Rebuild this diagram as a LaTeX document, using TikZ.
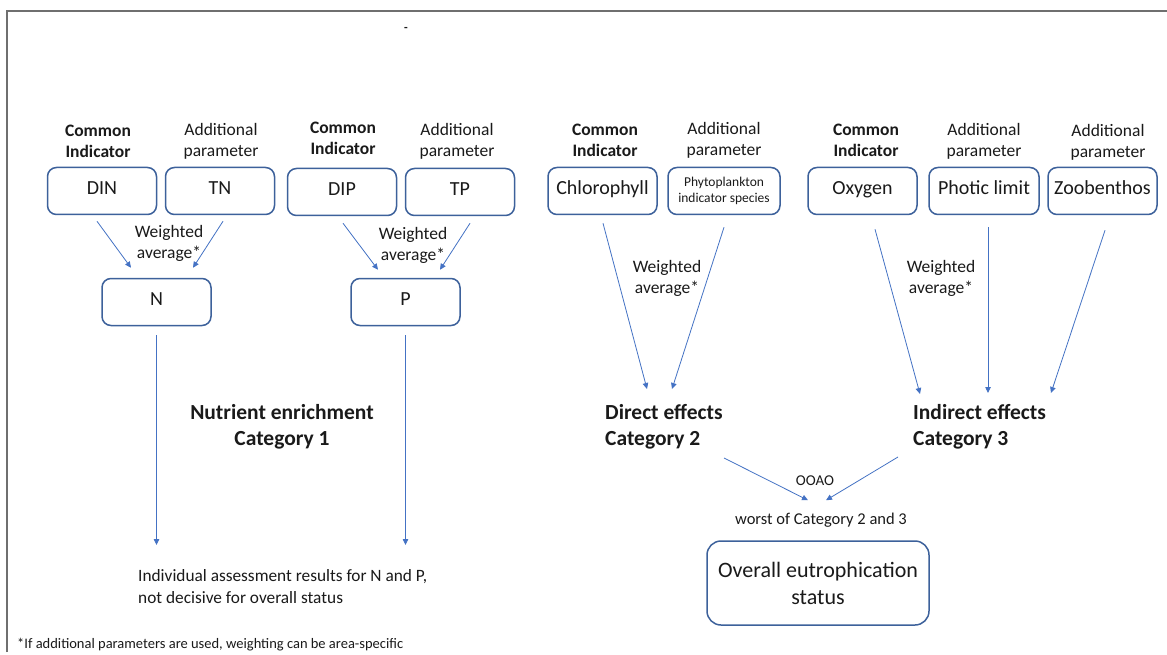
\documentclass[tikz,border=0pt]{standalone}
\usepackage{fontspec}
\setmainfont{Carlito}
\usetikzlibrary{arrows.meta,calc}
\definecolor{boxblue}{HTML}{3D619B}
\definecolor{arrblue}{HTML}{4472C4}
\definecolor{framegray}{HTML}{6F6F6F}
\definecolor{txt}{HTML}{1A1A1A}
\begin{document}
\begin{tikzpicture}[x=1pt,y=-1pt,
  ibox/.style={draw=boxblue, line width=1.5pt, rounded corners=9pt,
    minimum width=109pt, minimum height=47pt, inner sep=0pt, text=txt,
    font=\fontsize{20}{24}\selectfont, text height=0.64em, text depth=0.02em},
  lbl/.style={inner sep=0pt, align=center, text=txt, font=\fontsize{17.5}{21}\selectfont},
  blbl/.style={inner sep=0pt, align=center, text=txt, font=\fontsize{17.5}{21}\selectfont\bfseries},
  cat/.style={inner sep=0pt, text=txt, font=\fontsize{21.5}{26}\selectfont\bfseries},
  arr/.style={draw=arrblue, line width=0.8pt, -{Triangle[length=6pt,width=5.5pt]}}
]
\useasboundingbox (0,0) rectangle (1167,655);
\fill[white] (0,0) rectangle (1167,655);
% frame
\draw[framegray, line width=2pt] (7,652) -- (7,11) -- (1167,11);
\node[inner sep=0pt, font=\fontsize{12}{14}\selectfont\bfseries, text=txt] (dash) at (406,29) {-};

% header labels
\node[blbl] (ci1) at (98,141.5) {Common\\Indicator};
\node[lbl]  (ap1) at (221,141.5) {Additional\\parameter};
\node[blbl] (ci2) at (343,138) {Common\\Indicator};
\node[lbl]  (ap2) at (457,141.5) {Additional\\parameter};
\node[blbl] (ci3) at (605,140.5) {Common\\Indicator};
\node[lbl]  (ap3) at (724,140.5) {Additional\\parameter};
\node[blbl] (ci4) at (866,140.5) {Common\\Indicator};
\node[lbl]  (ap4) at (984,141) {Additional\\parameter};
\node[lbl]  (ap5) at (1108,142) {Additional\\parameter};

% boxes
\node[ibox] (DIN) at (102,191) {DIN};
\node[ibox] (TN) at (220,191) {TN};
\node[ibox] (DIP) at (342,192) {DIP};
\node[ibox] (TP) at (460,192) {TP};
\node[ibox] (N) at (156.5,302) {N};
\node[ibox] (P) at (405.5,302) {P};
\node[ibox] (Chl) at (602.5,191) {Chlorophyll};
\node[ibox, minimum width=112pt, text height=, text depth=, align=center,
  font=\fontsize{13.5}{16}\selectfont] (Phy) at (724,191) {Phytoplankton\\indicator species};
\node[ibox] (Oxy) at (862.5,191) {Oxygen};
\node[ibox, minimum width=110pt] (Pho) at (984,191) {Photic limit};
\node[ibox] (Zoo) at (1102.5,191) {Zoobenthos};
\node[ibox, minimum width=222pt, minimum height=84pt, rounded corners=14pt,
  text height=, text depth=, align=center, font=\fontsize{22}{27}\selectfont]
  (Ovr) at (818,583) {Overall eutrophication\\status};

% weighted labels
\node[lbl] (w1) at (169,243.5) {Weighted\\average*};
\node[lbl] (w2) at (413,245.5) {Weighted\\average*};
\node[lbl] (w3) at (667,278.5) {Weighted\\average*};
\node[lbl] (w4) at (941,278.5) {Weighted\\average*};

% category labels
\node[cat, align=center] (Nut) at (282,427) {Nutrient enrichment\\Category 1};
\node[cat, align=left, anchor=west] (Dir) at (605,427) {Direct effects\\Category 2};
\node[cat, align=left, anchor=west] (Ind) at (913,427) {Indirect effects\\Category 3};

\node[inner sep=0pt, text=txt, font=\fontsize{15}{18}\selectfont] (ooao) at (815,481) {OOAO};
\node[inner sep=0pt, text=txt, font=\fontsize{16.5}{20}\selectfont] (worst) at (821,520) {worst of Category 2 and 3};

\node[lbl, align=left, anchor=west, font=\fontsize{17.3}{22}\selectfont] (indiv) at (138,587)
  {Individual assessment results for N and P,\\not decisive for overall status};
\node[inner sep=0pt, anchor=west, text=txt, font=\fontsize{14.5}{17}\selectfont] (foot) at (17,645)
  {*If additional parameters are used, weighting can be area-specific};

\coordinate (Nend) at (156.5,545);
\coordinate (Pend) at (405.5,545);

% arrows
\draw[arr] ($(DIN.south)+(-5,6)$) -- ($(N.north)+(-25.5,-10)$);
\draw[arr] ($(TN.south)+(3,6)$) -- ($(N.north)+(36.5,-10)$);
\draw[arr] ($(DIP.south)+(1,7)$) -- ($(P.north)+(-27.5,-8)$);
\draw[arr] ($(TP.south)+(10,7)$) -- ($(P.north)+(34.5,-8)$);
\draw[arr] ($(N.south)+(0,9)$) -- (Nend);
\draw[arr] ($(P.south)+(0,9)$) -- (Pend);
\draw[arr] ($(Chl.south)+(0.5,8)$) -- ($(Dir.west)+(42,-38)$);
\draw[arr] ($(Phy.south)+(0,12)$) -- ($(Dir.west)+(67,-38)$);
\draw[arr] ($(Oxy.south)+(12.5,14)$) -- ($(Ind.west)+(7,-33)$);
\draw[arr] ($(Pho.south)+(4,12)$) -- ($(Ind.west)+(75,-34)$);
\draw[arr] ($(Zoo.south)+(2.5,15)$) -- ($(Ind.west)+(138,-34)$);
\draw[arr] ($(Dir.west)+(119,31)$) -- ($(Ovr.north)+(-10,-40)$);
\draw[arr] ($(Ind.west)+(-15,30)$) -- ($(Ovr.north)+(8,-40)$);
\end{tikzpicture}
\end{document}
